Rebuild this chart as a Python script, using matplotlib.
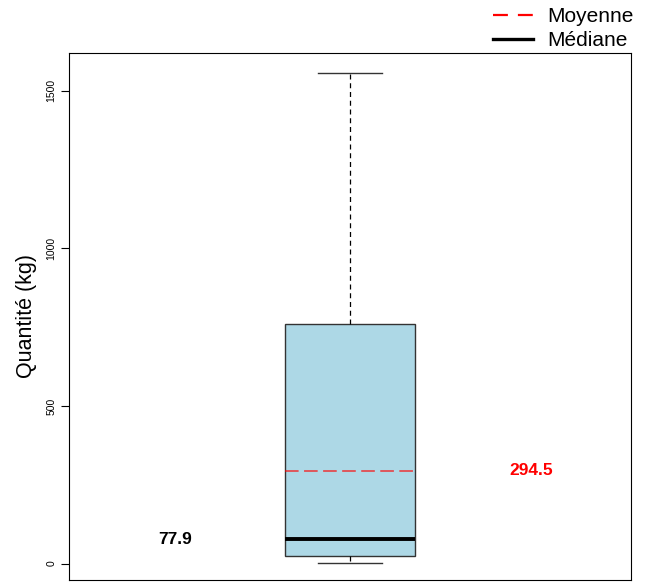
import matplotlib
matplotlib.use("Agg")
import matplotlib.pyplot as plt
from matplotlib.lines import Line2D

plt.rcParams['font.family'] = ['Liberation Sans', 'DejaVu Sans']

# Data
whisker_low = 2
q1 = 25
median = 77.9
q3 = 761
whisker_high = 1557
mean = 294.5
yticks = [0, 500, 1000, 1500]

fig = plt.figure(figsize=(6.46, 5.84), dpi=100)
ax = fig.add_axes([69/646, 1-580/584, (631-69)/646, (580-53)/584])

stats = [dict(whislo=whisker_low, q1=q1, med=median, q3=q3, whishi=whisker_high,
              mean=mean, label='')]
ax.bxp(stats, positions=[1], widths=0.23, patch_artist=True, showfliers=False,
       boxprops=dict(facecolor='#add8e6', edgecolor='#333333', linewidth=1.0),
       whiskerprops=dict(color='black', linestyle=(0, (4, 3)), linewidth=0.9),
       capprops=dict(color='#333333', linewidth=1.0),
       medianprops=dict(color='black', linewidth=2.8),
       capwidths=[0.115])

ax.hlines(mean, 1 - 0.115, 1 + 0.115, colors='red', linestyles=(0, (7, 2.8)),
          linewidth=1.4, alpha=0.6, zorder=5)

ax.text(0.689, median, f"{median}", fontsize=12.5, fontweight='bold', ha='center', va='center')
ax.text(1.322, mean, f"{mean}", fontsize=12.5, fontweight='bold', ha='center', va='center', color='red')

ax.set_xlim(0.5, 1.5)
ax.set_ylim(-52, 1620)
ax.set_xticks([])
ax.set_yticks(yticks)
ax.set_yticklabels([str(t) for t in yticks], rotation=90, va='center', fontsize=7.5)
ax.tick_params(axis='y', length=6, width=0.8, pad=3)
ax.set_ylabel("Quantité (kg)", fontsize=15.5, labelpad=7)
for s in ax.spines.values():
    s.set_linewidth(0.8)

handles = [Line2D([0], [0], color='red', linestyle=(0, (6.7, 4.5)), linewidth=1.6),
           Line2D([0], [0], color='black', linewidth=2.4)]
fig.legend(handles, ['Moyenne', 'Médiane'], loc='upper right',
           bbox_to_anchor=(634/646, 1 - 7/584),
           frameon=False, fontsize=15, handlelength=1.9, handletextpad=0.7,
           labelspacing=0.25, borderaxespad=0.0, borderpad=0.0)

fig.savefig("out.png", dpi=100)
